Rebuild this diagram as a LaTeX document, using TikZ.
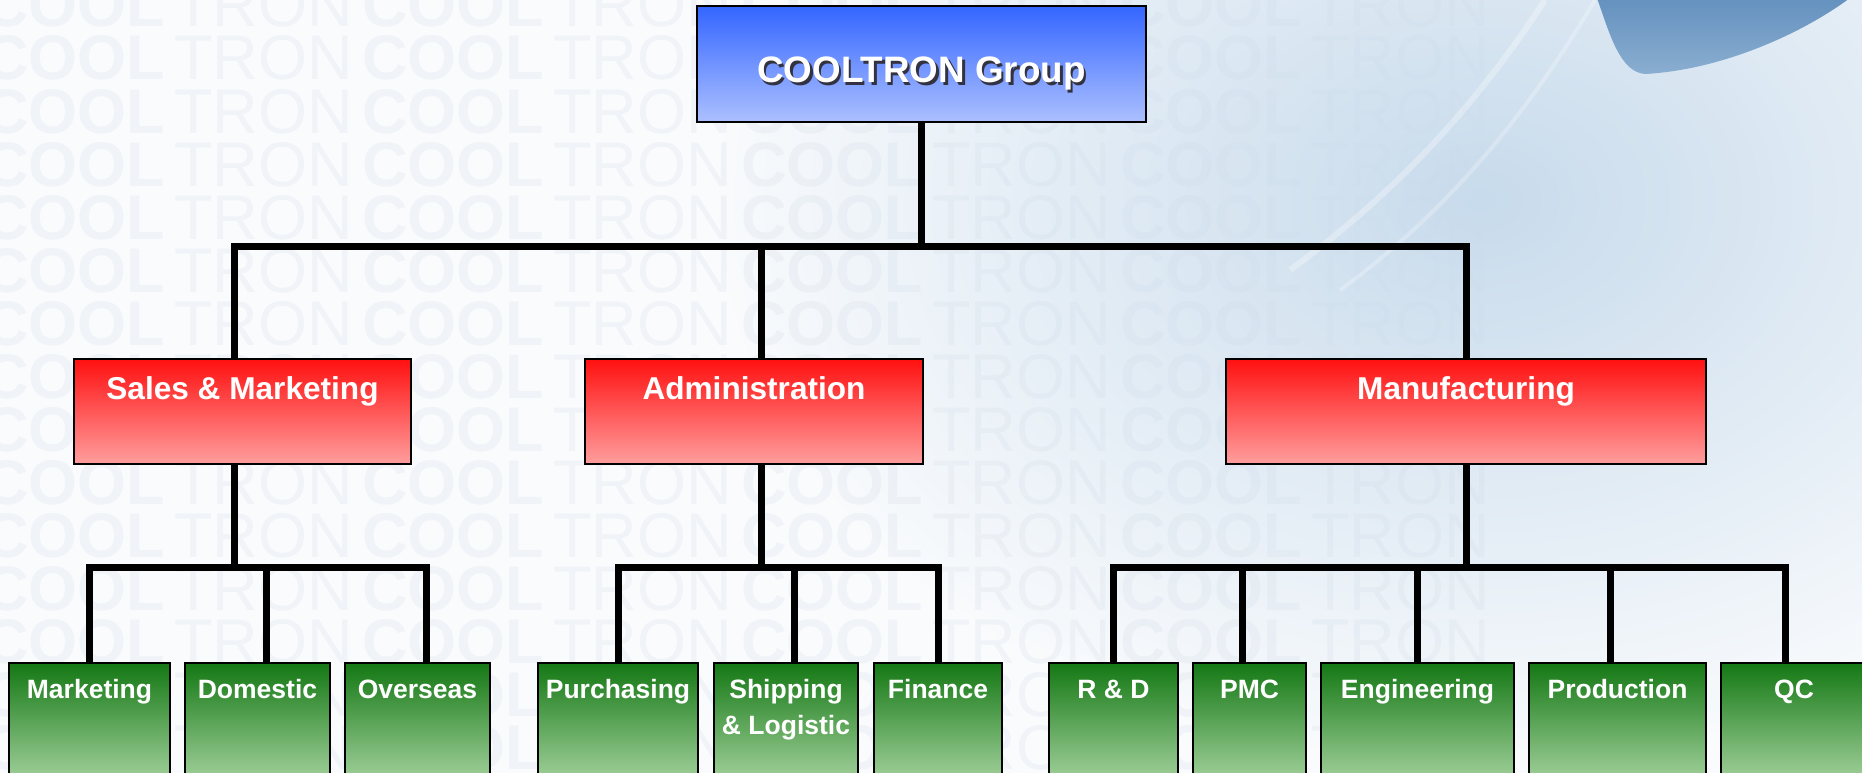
\documentclass[tikz,border=0pt]{standalone}
\usepackage{fontspec}
\setmainfont{Liberation Sans}
\usetikzlibrary{calc,fadings}
\definecolor{bgc}{RGB}{249,251,253}
\definecolor{glow}{RGB}{200,219,236}
\definecolor{blobc}{RGB}{100,145,191}
\definecolor{blobedge}{RGB}{138,174,208}
\definecolor{wmc}{RGB}{240,243,247}
\definecolor{bluetop}{RGB}{52,102,255}
\definecolor{bluebot}{RGB}{172,192,255}
\definecolor{redtop}{RGB}{255,16,16}
\definecolor{redbot}{RGB}{255,158,158}
\definecolor{greentop}{RGB}{20,120,20}
\definecolor{greenbot}{RGB}{160,208,154}
\definecolor{shadowc}{RGB}{50,50,65}
\tikzfading[name=glowfade, inner color=transparent!0, outer color=transparent!100]
\begin{document}
\begin{tikzpicture}[x=1pt,y=-1pt,
  boxbase/.style={draw=black, line width=2.5pt, inner sep=0pt, shape=rectangle},
  toplevel/.style={boxbase, top color=bluetop, bottom color=bluebot},
  midlevel/.style={boxbase, top color=redtop, bottom color=redbot, minimum height=105pt},
  lowlevel/.style={boxbase, top color=greentop, bottom color=greenbot, minimum height=117pt},
  conn/.style={line width=7pt, draw=black, line join=miter},
  toplbl/.style={font=\bfseries\fontsize{36.8}{40}\selectfont, text=white, anchor=base, inner sep=0pt},
  midlbl/.style={font=\bfseries\fontsize{31.6}{36}\selectfont, text=white, anchor=base, inner sep=0pt},
  lowlbl/.style={font=\bfseries\fontsize{26.5}{36}\selectfont, text=white, anchor=base, inner sep=0pt},
  wmcool/.style={font=\bfseries\fontsize{63}{63}\selectfont, text=wmc, anchor=base west, inner sep=0pt},
  wmtron/.style={font=\fontsize{63}{63}\selectfont, text=wmc, anchor=base west, inner sep=0pt},
]
\useasboundingbox (0,0) rectangle (1862,773);
% background
\fill[bgc] (0,0) rectangle (1862,773);
% watermark
\foreach \k in {0,...,14} {
  \foreach \j in {0,...,3} {
    \node[wmcool] (wmc-\k-\j) at ({-17+379*\j}, {27+53*\k}) {COOL};
    \node[wmtron] (wmt-\k-\j) at ({174+379*\j}, {27+53*\k}) {TRON};
  }
}
% sky glow, streaks and blade
\fill[glow, path fading=glowfade] (1480,200) ellipse [x radius=760pt, y radius=560pt];
\draw[white, opacity=0.3, line width=6pt] (1290,270) .. controls (1400,190) and (1480,100) .. (1545,0);
\draw[white, opacity=0.25, line width=4pt] (1340,290) .. controls (1450,210) and (1530,110) .. (1595,0);
\shade[top color=blobc, bottom color=blobedge] (1597,-2) .. controls (1610,35) and (1620,72) .. (1645,74) .. controls (1720,70) and (1800,35) .. (1850,-2) -- cycle;
% boxes
\node[toplevel, minimum width=449pt, minimum height=116pt] (top) at (921.5,64) {};
\node[toplbl, text=shadowc] (topshadow) at (924,85.5) {COOLTRON Group};
\node[toplbl] (toptext) at (921.5,83) {COOLTRON Group};

\node[midlevel, minimum width=337pt] (sales) at (242.5,411.5) {};
\node[midlevel, minimum width=338pt] (admin) at (754,411.5) {};
\node[midlevel, minimum width=480pt] (manuf) at (1466,411.5) {};
\coordinate (ml) at (0,399);
\node[midlbl] (t-sales) at (sales |- ml) {Sales \& Marketing};
\node[midlbl] (t-admin) at (admin |- ml) {Administration};
\node[midlbl] (t-manuf) at (manuf |- ml) {Manufacturing};

\node[lowlevel, minimum width=161pt] (mkt) at (89.5,721.5) {};
\node[lowlevel, minimum width=145pt] (dom) at (257.5,721.5) {};
\node[lowlevel, minimum width=145pt] (ovs) at (417.5,721.5) {};
\node[lowlevel, minimum width=160pt] (pur) at (618,721.5) {};
\node[lowlevel, minimum width=144pt] (shp) at (786,721.5) {};
\node[lowlevel, minimum width=128pt] (fin) at (938,721.5) {};
\node[lowlevel, minimum width=129pt] (rd) at (1113.5,721.5) {};
\node[lowlevel, minimum width=113pt] (pmc) at (1249.5,721.5) {};
\node[lowlevel, minimum width=193pt] (eng) at (1417.5,721.5) {};
\node[lowlevel, minimum width=177pt] (prd) at (1617.5,721.5) {};
\node[lowlevel, minimum width=146pt] (qc) at (1794,721.5) {};
\coordinate (ll) at (0,698);
\coordinate (ll2) at (0,734);
\node[lowlbl] (t-mkt) at (mkt |- ll) {Marketing};
\node[lowlbl] (t-dom) at (dom |- ll) {Domestic};
\node[lowlbl] (t-ovs) at (ovs |- ll) {Overseas};
\node[lowlbl] (t-pur) at (pur |- ll) {Purchasing};
\node[lowlbl] (t-shp) at (shp |- ll) {Shipping};
\node[lowlbl] (t-shp2) at (shp |- ll2) {\& Logistic};
\node[lowlbl] (t-fin) at (fin |- ll) {Finance};
\node[lowlbl] (t-rd) at (rd |- ll) {R \& D};
\node[lowlbl] (t-pmc) at (pmc |- ll) {PMC};
\node[lowlbl] (t-eng) at (eng |- ll) {Engineering};
\node[lowlbl] (t-prd) at (prd |- ll) {Production};
\node[lowlbl] (t-qc) at (qc |- ll) {QC};

% connectors
\coordinate (b1) at (0,246);
\coordinate (b2) at (0,567);
\coordinate (s1) at ([xshift=-8.5pt]sales.north);
\coordinate (s2) at ([xshift=-8.5pt]sales.south);
\coordinate (a1) at ([xshift=7.5pt]admin.north);
\coordinate (a2) at ([xshift=7.5pt]admin.south);
\draw[conn] (s1) -- (s1 |- b1) -- (manuf.north |- b1) -- (manuf.north);
\draw[conn] (top.south) -- (top.south |- b1);
\draw[conn] (a1) -- (a1 |- b1);

\coordinate (dm) at ([xshift=8.5pt]dom.north);
\coordinate (ov) at ([xshift=8.5pt]ovs.north);
\draw[conn] (s2) -- (s2 |- b2);
\draw[conn] (mkt.north) -- (mkt.north |- b2) -- (ov |- b2) -- (ov);
\draw[conn] (dm) -- (dm |- b2);

\coordinate (sh) at ([xshift=8pt]shp.north);
\draw[conn] (a2) -- (a2 |- b2);
\draw[conn] (pur.north) -- (pur.north |- b2) -- (fin.north |- b2) -- (fin.north);
\draw[conn] (sh) -- (sh |- b2);

\coordinate (pm) at ([xshift=-7.5pt]pmc.north);
\coordinate (pr) at ([xshift=-7.5pt]prd.north);
\coordinate (q) at ([xshift=-9pt]qc.north);
\draw[conn] (manuf.south) -- (manuf.south |- b2);
\draw[conn] (rd.north) -- (rd.north |- b2) -- (q |- b2) -- (q);
\draw[conn] (pm) -- (pm |- b2);
\draw[conn] (eng.north) -- (eng.north |- b2);
\draw[conn] (pr) -- (pr |- b2);
\end{tikzpicture}
\end{document}
